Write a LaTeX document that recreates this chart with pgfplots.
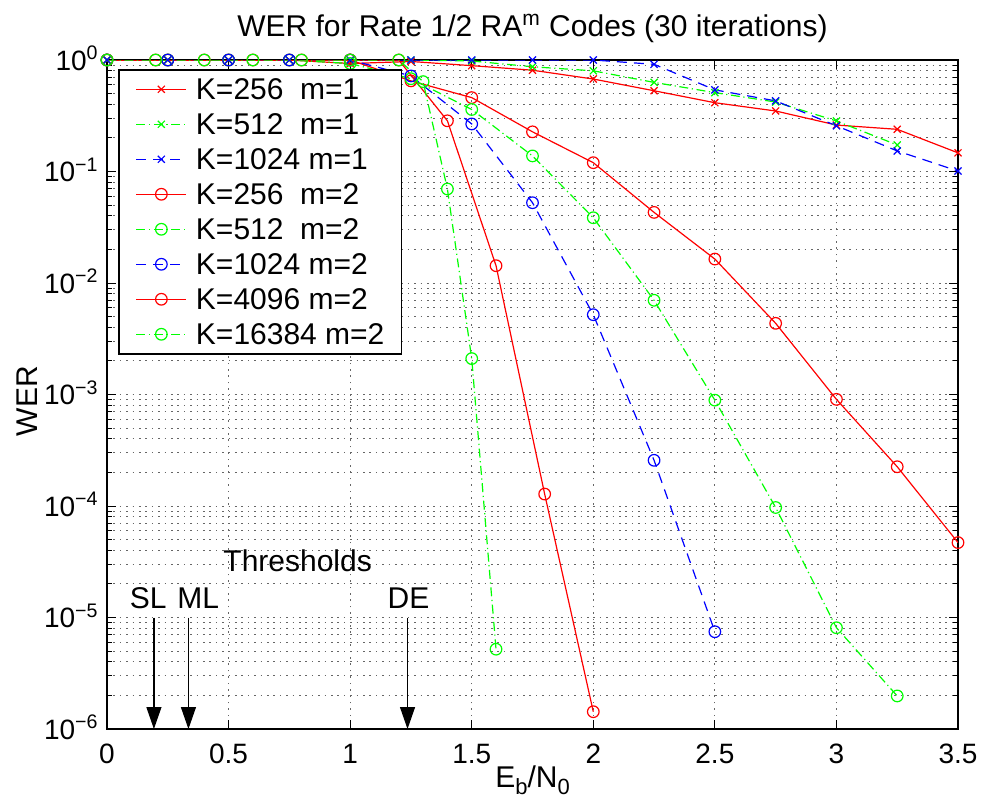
\documentclass[border=0pt]{standalone}
\usepackage{fontspec}
\setmainfont{Liberation Sans}
\usepackage{pgfplots}
\pgfplotsset{compat=1.18}
\usetikzlibrary{arrows.meta}

\definecolor{mred}{rgb}{1,0,0}
\definecolor{mgreen}{rgb}{0,1,0}
\definecolor{mblue}{rgb}{0,0,1}

\tikzset{
  ddot/.style={dash pattern=on 4.5pt off 1.8pt on 0.6pt off 1.8pt},
  dsh/.style={dash pattern=on 5pt off 3.5pt},
}

\begin{document}
\begin{tikzpicture}
\begin{axis}[
  scale only axis,
  width=425.5pt, height=334.5pt,
  ymode=log,
  xmin=0, xmax=3.5, ymin=1e-6, ymax=1,
  xtick={0,0.5,1,1.5,2,2.5,3,3.5},
  xticklabels={0,0.5,1,1.5,2,2.5,3,3.5},
  ytick={1e-6,1e-5,1e-4,1e-3,1e-2,1e-1,1},
  yticklabels={10\textsuperscript{−6},10\textsuperscript{−5},10\textsuperscript{−4},10\textsuperscript{−3},10\textsuperscript{−2},10\textsuperscript{−1},10\textsuperscript{0}},
  ticklabel style={font=\fontsize{14}{16}\selectfont},
  xticklabel style={anchor=base, yshift=-17pt},
  yticklabel style={anchor=base east, inner sep=0pt, xshift=-4pt, yshift=-5pt},
  tick align=inside,
  major tick length=4.5pt, minor tick length=2.5pt,
  tick style={black, line width=0.5pt},
  axis line style={line width=0.8pt},
  grid=both,
  major grid style={black!60, line width=0.5pt, dash pattern=on 0.8pt off 2.4pt},
  minor grid style={black!60, line width=0.5pt, dash pattern=on 0.8pt off 2.4pt},
  title={WER for Rate 1/2 RA\textsuperscript{m} Codes (30 iterations)},
  title style={font=\fontsize{15}{18}\selectfont, at={(rel axis cs:0.5,1)}, anchor=base, yshift=6pt},
  xlabel={E\raisebox{-0.45ex}{\fontsize{11}{12}\selectfont b}/N\raisebox{-0.45ex}{\fontsize{11}{12}\selectfont 0}},
  xlabel style={font=\fontsize{15}{18}\selectfont, at={(rel axis cs:0.5,-0.0867)}, anchor=base},
  ylabel={WER},
  ylabel style={font=\fontsize{15}{18}\selectfont, at={(rel axis cs:-0.0811,0.49)}, anchor=base, rotate=0},
  legend cell align=left,
  legend image code/.code={\draw[mark repeat=2,mark phase=2] plot coordinates {(0pt,0pt)(12.5pt,0pt)(25pt,0pt)};},
  legend style={at={(rel axis cs:0.0129,0.9866)}, anchor=north west,
    draw=black, line width=0.8pt, fill=white,
    font=\fontsize{15}{18}\selectfont,
    inner xsep=8.5pt, inner ysep=4.5pt,
    row sep=7pt, column sep=4.5pt,
    nodes={inner sep=0pt, text height=10.5pt, text depth=0pt}},
  every axis plot/.append style={line width=0.6pt},
]
% K=256 m=1
\addplot[mred, mark=x, mark size=2.5pt, mark options={solid}] coordinates {
(0,1)(0.25,1)(0.5,1)(0.75,1)(1,0.93)(1.25,0.97)(1.5,0.89)(1.75,0.81)(2,0.675)
(2.25,0.53)(2.5,0.414)(2.75,0.349)(3,0.261)(3.25,0.239)(3.5,0.147)};
% K=512 m=1
\addplot[mgreen, ddot, mark=x, mark size=2.5pt, mark options={solid}] coordinates {
(0,1)(0.25,1)(0.5,1)(0.75,1)(1,1)(1.25,1)(1.5,0.98)(1.75,0.87)(2,0.80)
(2.25,0.63)(2.5,0.51)(2.75,0.42)(3,0.284)(3.25,0.173)};
% K=1024 m=1
\addplot[mblue, dsh, mark=x, mark size=2.5pt, mark options={solid}] coordinates {
(0,1)(0.25,1)(0.5,1)(0.75,1)(1,1)(1.25,1)(1.5,1)(1.75,1)(2,1)
(2.25,0.915)(2.5,0.54)(2.75,0.43)(3,0.257)(3.25,0.153)(3.5,0.101)};
% K=256 m=2
\addplot[mred, mark=o, mark size=2.9pt, mark options={solid}] coordinates {
(0,1)(0.25,1)(0.5,1)(0.75,1)(1,1)(1.25,0.65)(1.5,0.46)(1.75,0.227)(2,0.12)
(2.25,0.043)(2.5,0.0164)(2.75,4.35e-3)(3,9.05e-4)(3.25,2.25e-4)(3.5,4.7e-5)};
% K=512 m=2
\addplot[mgreen, ddot, mark=o, mark size=2.9pt, mark options={solid}] coordinates {
(0,1)(0.25,1)(0.5,1)(0.75,1)(1,0.93)(1.25,0.68)(1.5,0.36)(1.75,0.138)(2,0.0385)
(2.25,7.0e-3)(2.5,8.9e-4)(2.75,9.7e-5)(3,8.1e-6)(3.25,1.98e-6)};
% K=1024 m=2
\addplot[mblue, dsh, mark=o, mark size=2.9pt, mark options={solid}] coordinates {
(0,1)(0.25,1)(0.5,1)(0.75,1)(1,1)(1.25,0.72)(1.5,0.267)(1.75,0.0525)(2,5.2e-3)
(2.25,2.57e-4)(2.5,7.46e-6)};
% K=4096 m=2
\addplot[mred, mark=o, mark size=2.9pt, mark options={solid}] coordinates {
(0,1)(0.2,1)(0.4,1)(0.6,1)(0.8,1)(1,1)(1.2,1)(1.4,0.285)(1.6,0.0143)(1.8,1.28e-4)(2,1.43e-6)};
% K=16384 m=2
\addplot[mgreen, ddot, mark=o, mark size=2.9pt, mark options={solid}] coordinates {
(0,1)(0.2,1)(0.4,1)(0.6,1)(0.8,1)(1,1)(1.2,1)(1.3,0.64)(1.4,0.0697)(1.5,2.1e-3)(1.6,5.2e-6)};
\legend{K=256\ \ m=1, K=512\ \ m=1, K=1024 m=1, K=256\ \ m=2, K=512\ \ m=2, K=1024 m=2, K=4096 m=2, K=16384 m=2}

\node[font=\fontsize{15}{18}\selectfont] at (axis cs:0.784,3.2e-5) {Thresholds};
\draw[-{Triangle[length=11pt,width=7.5pt]}, line width=0.6pt] (axis cs:0.193,1e-5) -- (axis cs:0.193,1e-6);
\draw[-{Triangle[length=11pt,width=7.5pt]}, line width=0.6pt] (axis cs:0.335,1e-5) -- (axis cs:0.335,1e-6);
\draw[-{Triangle[length=11pt,width=7.5pt]}, line width=0.6pt] (axis cs:1.236,1e-5) -- (axis cs:1.236,1e-6);
\node[font=\fontsize{15}{18}\selectfont, anchor=base] at (axis cs:0.17,1.2e-5) {SL};
\node[font=\fontsize{15}{18}\selectfont, anchor=base] at (axis cs:0.375,1.2e-5) {ML};
\node[font=\fontsize{15}{18}\selectfont, anchor=base] at (axis cs:1.24,1.2e-5) {DE};

\coordinate (bbA) at (rel axis cs:-0.12573,-0.11360);
\coordinate (bbB) at (rel axis cs:1.02820,1.08969);
\end{axis}
\pgfresetboundingbox
\path[use as bounding box] (bbA) rectangle (bbB);
\end{tikzpicture}
\end{document}
